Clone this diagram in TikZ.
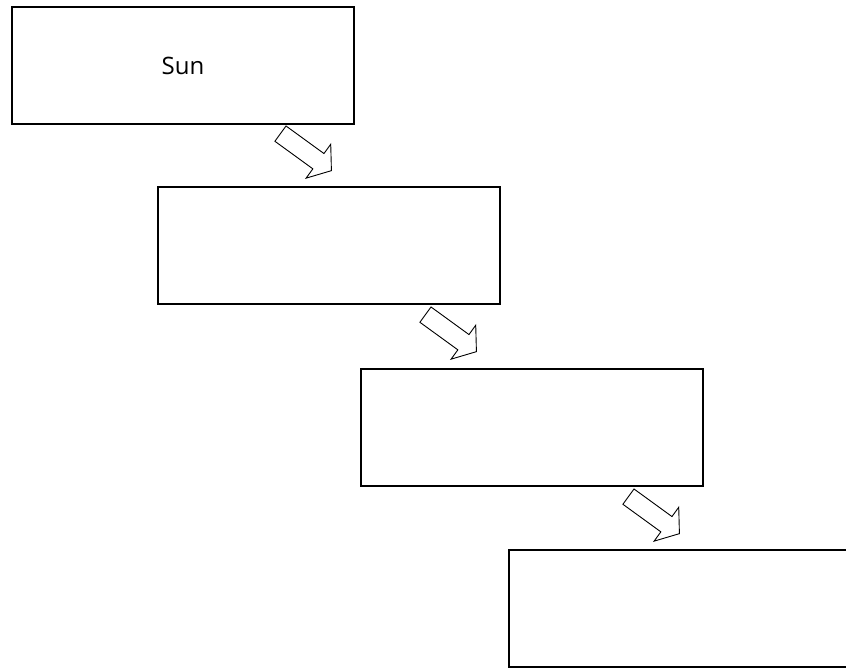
\documentclass[tikz,border=0pt]{standalone}
\usepackage{fontspec}
\setmainfont{Open Sans}
\usetikzlibrary{shapes.arrows}
\begin{document}
\begin{tikzpicture}[x=1pt,y=-1pt,
  box/.style={draw=black, line width=2pt, minimum width=342pt, minimum height=117pt, inner sep=0pt, anchor=center},
  blockarrow/.style={single arrow, draw=black, fill=white, line width=0.9pt, minimum height=63pt, inner xsep=0pt, inner ysep=9pt, single arrow head extend=11.5pt, single arrow tip angle=105, rotate=-36}]
\useasboundingbox (0,0) rectangle (846,667);
\node[box] (b1) at (183,65.5) {};
\node[font=\fontsize{24}{28}\selectfont] (sun) at (183,66) {Sun};
\node[box] (b2) at (329,245.5) {};
\node[box] (b3) at (531.5,427) {};
\node[box, minimum width=350pt, anchor=north west] (b4) at (508,549) {};
\node[blockarrow] (a1) at (303,150) {};
\node[blockarrow] (a2) at (448,331) {};
\node[blockarrow] (a3) at (651,513) {};
\end{tikzpicture}
\end{document}
